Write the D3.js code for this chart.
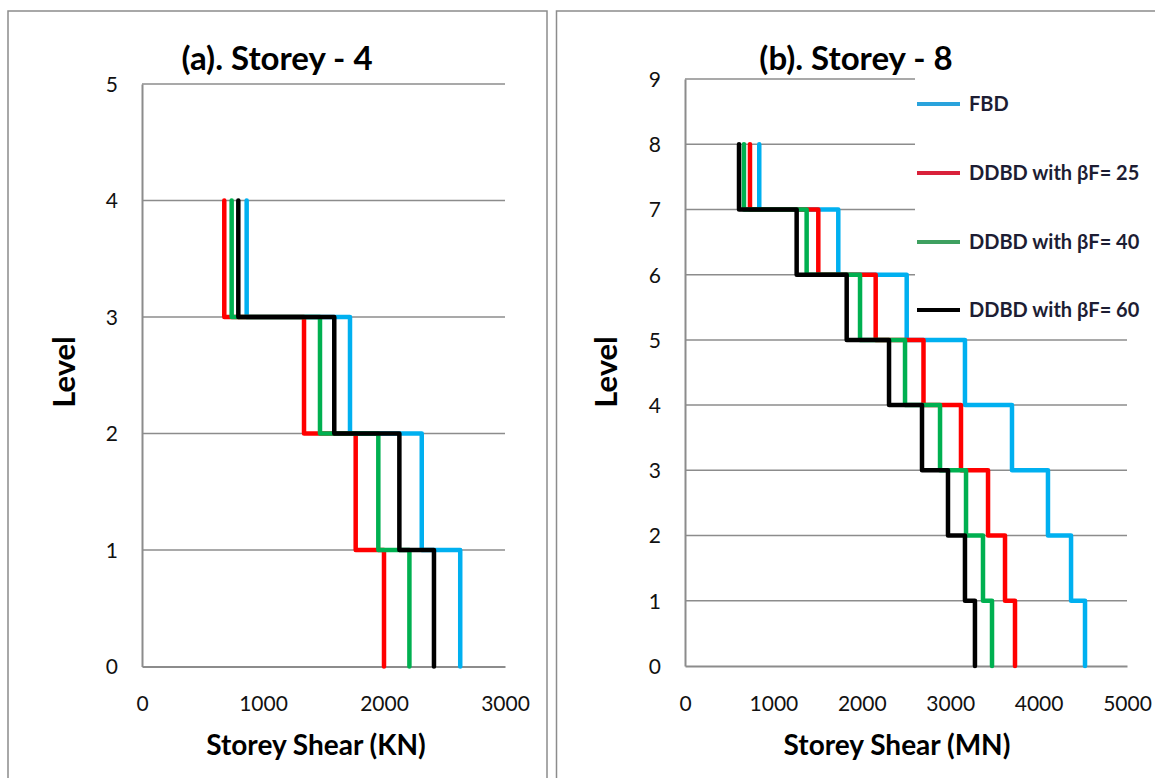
<!DOCTYPE html>
<meta charset="utf-8">
<head>
	<style>
		html, body { margin: 0; padding: 0; background: white; }
		svg { display: block; font-family: Lato, "Open Sans", sans-serif; }
		.tick text { font-family: Lato, sans-serif; font-size: 21px; fill: #111; }
		.grid line { stroke: #8c8c8c; stroke-width: 1.5; }
		.frame { fill: none; stroke: #8c8c8c; stroke-width: 1.5; }
		.series { fill: none; stroke-width: 4.5; stroke-linecap: round; stroke-linejoin: round; }
		.title { font-size: 33px; font-weight: bold; text-anchor: middle; }
		.axtitle { font-size: 28px; font-weight: bold; text-anchor: middle; }
		.level { font-size: 31px; font-weight: bold; text-anchor: middle; }
		.legtext { font-size: 20px; font-weight: bold; fill: #1d1d33; }
	</style>
	<script src="https://cdnjs.cloudflare.com/ajax/libs/d3/7.8.5/d3.min.js"></script>
</head>
<body>
<script>

// DATA  (storey shear per storey, ground storey first)
var seriesNames = ['FBD', 'DDBD with βF= 25', 'DDBD with βF= 40', 'DDBD with βF= 60'];
var seriesColors = ['#00b0f0', '#ff0000', '#00b050', '#000000'];
var legendColors = ['#2aa3dc', '#d9213a', '#3ea060', '#000000'];

// (a) Storey - 4, KN
var fbd4 = [2630, 2312, 1719, 865];
var ddbd25_4 = [2000, 1766, 1339, 680];
var ddbd40_4 = [2210, 1953, 1471, 741];
var ddbd60_4 = [2413, 2127, 1589, 796];
var xTicks4 = [0, 1000, 2000, 3000];
var yTicks4 = [0, 1, 2, 3, 4, 5];

// (b) Storey - 8, MN
var fbd8 = [4525, 4367, 4106, 3699, 3167, 2508, 1734, 840];
var ddbd25_8 = [3733, 3620, 3428, 3122, 2698, 2157, 1508, 735];
var ddbd40_8 = [3473, 3371, 3179, 2885, 2489, 1980, 1376, 667];
var ddbd60_8 = [3280, 3167, 2975, 2681, 2308, 1829, 1263, 611];
var xTicks8 = [0, 1000, 2000, 3000, 4000, 5000];
var yTicks8 = [0, 1, 2, 3, 4, 5, 6, 7, 8, 9];

// SETUP
var svg = d3.select('body').append('svg')
	.attr('width', 1155)
	.attr('height', 778);

// panel frames (run off the bottom of the picture)
svg.append('rect').attr('class', 'frame').attr('x', 8).attr('y', 11).attr('width', 539).attr('height', 800);
svg.append('rect').attr('class', 'frame').attr('x', 556.5).attr('y', 11).attr('width', 620).attr('height', 800);

function stepPoints(vals) {
	var pts = [];
	vals.forEach(function(v, i) {
		pts.push([v, i]);
		pts.push([v, i + 1]);
	});
	return pts;
}

function panel(opt) {
	var x = d3.scaleLinear().domain(opt.xDomain).range(opt.xRange),
		y = d3.scaleLinear().domain(opt.yDomain).range(opt.yRange);

	var g = svg.append('g');

	// gridlines (cut short where the legend box sits)
	g.append('g').attr('class', 'grid')
		.selectAll('line')
		.data(opt.yTicks.slice(1))
		.enter().append('line')
		.attr('x1', x(opt.xDomain[0]))
		.attr('x2', function(d) { return opt.legendAbove == null || d < opt.legendAbove ? x(opt.xDomain[1]) : opt.legendLeft; })
		.attr('y1', function(d) { return y(d); })
		.attr('y2', function(d) { return y(d); });

	// axes
	var ax = g.append('g')
		.attr('transform', 'translate(0,' + y(0) + ')')
		.call(d3.axisBottom(x).tickValues(opt.xTicks).tickSize(0).tickPadding(30).tickFormat(d3.format('d')));
	ax.select('.domain').attr('stroke', '#8c8c8c').attr('stroke-width', 2);

	var ay = g.append('g')
		.attr('transform', 'translate(' + x(0) + ',0)')
		.call(d3.axisLeft(y).tickValues(opt.yTicks).tickSize(0).tickPadding(24).tickFormat(d3.format('d')));
	ay.select('.domain').attr('stroke', '#8c8c8c').attr('stroke-width', 2);
	ay.selectAll('.tick text').attr('dy', '0.35em');

	// series
	var line = d3.line()
		.x(function(d) { return x(d[0]); })
		.y(function(d) { return y(d[1]); });

	g.selectAll('.series')
		.data(opt.series)
		.enter().append('path')
		.attr('class', 'series')
		.attr('stroke', function(d, i) { return seriesColors[i]; })
		.attr('d', function(d) { return line(stepPoints(d)); });

	// titles
	g.append('text').attr('class', 'title')
		.attr('x', opt.titleX).attr('y', 70)
		.text(opt.title);
	g.append('text').attr('class', 'axtitle')
		.attr('x', opt.xTitleX).attr('y', 755)
		.text(opt.xTitle);
	g.append('text').attr('class', 'level')
		.attr('transform', 'translate(' + opt.levelX + ',' + 372 + ') rotate(-90)')
		.attr('dy', '0.35em')
		.text('Level');
}

// DRAWING
panel({
	xDomain: [0, 3000], xRange: [142, 505],
	yDomain: [0, 5], yRange: [666.5, 84],
	xTicks: xTicks4, yTicks: yTicks4,
	series: [fbd4, ddbd25_4, ddbd40_4, ddbd60_4],
	title: '(a). Storey - 4', titleX: 277,
	xTitle: 'Storey Shear (KN)', xTitleX: 316, levelX: 64
});

panel({
	xDomain: [0, 5000], xRange: [685, 1127],
	yDomain: [0, 9], yRange: [666, 79],
	xTicks: xTicks8, yTicks: yTicks8,
	series: [fbd8, ddbd25_8, ddbd40_8, ddbd60_8],
	title: '(b). Storey - 8', titleX: 856,
	xTitle: 'Storey Shear (MN)', xTitleX: 897, levelX: 606,
	legendAbove: 6, legendLeft: 915
});

// LEGEND
var legY = [104, 173, 242, 310];
var leg = svg.append('g').selectAll('g')
	.data(seriesNames)
	.enter().append('g')
	.attr('transform', function(d, i) { return 'translate(917,' + legY[i] + ')'; });

leg.append('line')
	.attr('x1', 0).attr('x2', 43)
	.attr('stroke-width', 4)
	.attr('stroke', function(d, i) { return legendColors[i]; });

leg.append('text')
	.attr('class', 'legtext')
	.attr('x', 52)
	.attr('dy', '0.35em')
	.text(function(d) { return d; });

</script>
</body>
